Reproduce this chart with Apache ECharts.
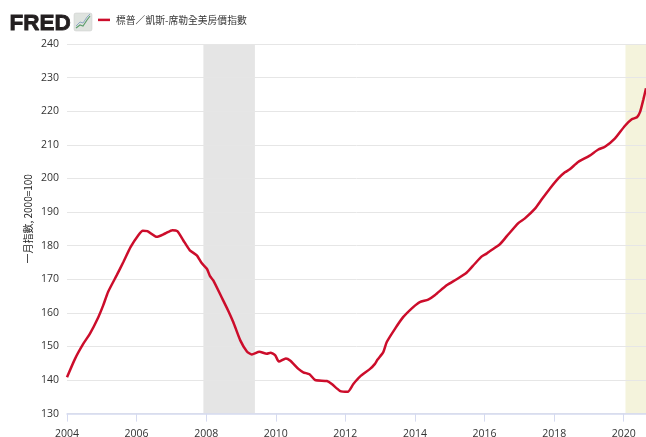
<!DOCTYPE html>
<html><head><meta charset="utf-8">
<style>html,body{margin:0;padding:0;background:#fff}#c{width:646px;height:437px}</style>
<script src="https://cdn.jsdelivr.net/npm/echarts@6/dist/echarts.min.js"></script>
</head><body><div id="c"></div>
<script>
const seriesName = '標普／凱斯-席勒全美房價指數';
const yAxisName = '一月指數, 2000=100';
const years = [2004.00,2004.23,2004.47,2004.66,2004.90,2005.04,2005.18,2005.43,2005.62,2005.83,2006.05,2006.18,2006.31,2006.58,2006.82,2007.03,2007.17,2007.34,2007.53,2007.73,2007.87,2008.02,2008.11,2008.20,2008.44,2008.63,2008.78,2008.98,2009.17,2009.31,2009.53,2009.74,2009.85,2009.98,2010.09,2010.29,2010.41,2010.65,2010.79,2010.97,2011.13,2011.47,2011.61,2011.84,2012.07,2012.23,2012.42,2012.71,2012.85,2012.92,2013.09,2013.19,2013.43,2013.66,2013.95,2014.14,2014.38,2014.57,2014.91,2015.20,2015.49,2015.72,2015.92,2016.06,2016.16,2016.44,2016.64,2016.97,2017.16,2017.45,2017.64,2017.88,2018.12,2018.31,2018.45,2018.69,2019.01,2019.27,2019.46,2019.75,2020.03,2020.23,2020.38,2020.47,2020.56,2020.64];
const values = [140.8,146.3,150.8,153.8,158.7,162.2,166.2,171.2,175.1,179.6,183.1,184.4,184.3,182.6,183.6,184.6,184.3,181.6,178.6,177.1,174.8,173.1,170.9,169.7,164.7,160.7,157.2,151.8,148.5,147.6,148.4,147.8,148.1,147.4,145.5,146.4,145.8,143.3,142.3,141.7,140.0,139.7,138.8,136.8,136.5,138.8,141.0,143.3,144.8,146.0,148.3,151.3,155.3,158.7,161.7,163.2,163.9,165.2,168.2,170.0,172.0,174.6,176.8,177.6,178.4,180.4,182.8,186.7,188.1,191.0,193.7,197.0,200.0,201.8,202.7,204.9,206.7,208.6,209.4,211.9,215.6,217.6,218.2,219.8,223.3,226.8];
const recession = [2007.92, 2009.4];
const pandemic = [2020.05, 2020.64];
const chart = echarts.init(document.getElementById('c'), null, {renderer:'canvas'});
const font = '"Open Sans","Noto Sans CJK TC",sans-serif';
chart.setOption({
  animation:false,
  textStyle:{fontFamily:font},
  grid:{left:67,right:0,top:44,bottom:23.4,outerBoundsMode:'none'},
  legend:{left:98,top:15,padding:0,itemWidth:12,itemHeight:2.5,itemGap:4,icon:'rect',
    textStyle:{fontSize:9.8,color:'#333',fontFamily:'"Noto Sans CJK TC",sans-serif',padding:[0,0,0,1]},
    data:[seriesName]},
  xAxis:{type:'value',min:2004,max:2020.64,interval:2,
    axisLine:{show:true,lineStyle:{color:'#d5daf0',width:1.5}},
    axisTick:{show:true,length:8,lineStyle:{color:'#d5daf0'}},
    axisLabel:{color:'#333',fontSize:10.5,margin:15,showMaxLabel:false,formatter:v=>String(v)},
    splitLine:{show:false}},
  yAxis:{type:'value',min:130,max:240,interval:10,
    name:yAxisName,nameLocation:'middle',nameGap:34,nameMoveOverlap:false,
    nameTextStyle:{color:'#222',fontSize:10,fontFamily:'"Noto Sans CJK TC",sans-serif',padding:[0,0,0,20]},
    axisLine:{show:false},axisTick:{show:false},
    axisLabel:{color:'#333',fontSize:10.5,margin:8},
    splitLine:{lineStyle:{color:'#e6e6e6',width:1}}},
  series:[{name:seriesName,type:'line',showSymbol:false,smooth:0.2,
    data:years.map((y,i)=>[y,values[i]]),
    lineStyle:{color:'#cc0d2b',width:2.5},itemStyle:{color:'#cc0d2b'},
    markArea:{silent:true,z:-1,itemStyle:{color:'#e5e5e5'},
      data:[[{xAxis:recession[0],itemStyle:{color:'#e5e5e5'}},{xAxis:recession[1]}],
            [{xAxis:pandemic[0],itemStyle:{color:'#f4f3dc'}},{xAxis:pandemic[1]}]]}}],
  graphic:[
    {type:'text',left:9,top:12,style:{text:'FRED',fontFamily:'"Liberation Sans"',fontWeight:'bold',fontSize:22.5,fill:'#231f20',stroke:'#231f20',lineWidth:.8}},
    {type:'rect',shape:{x:74,y:13,width:18,height:18,r:2},style:{fill:'#dfe3df',stroke:'#c8c8c8',lineWidth:.5}},
    {type:'polyline',shape:{points:[[76,28],[80,25],[83,26],[87,20],[90,16]]},style:{stroke:'#5f9e6e',lineWidth:1.2,fill:null}},
    {type:'polyline',shape:{points:[[76,26],[80,22],[83,23],[87,17],[90,14]]},style:{stroke:'#8fa9c4',lineWidth:1,fill:null}}
  ]
});
</script></body></html>
